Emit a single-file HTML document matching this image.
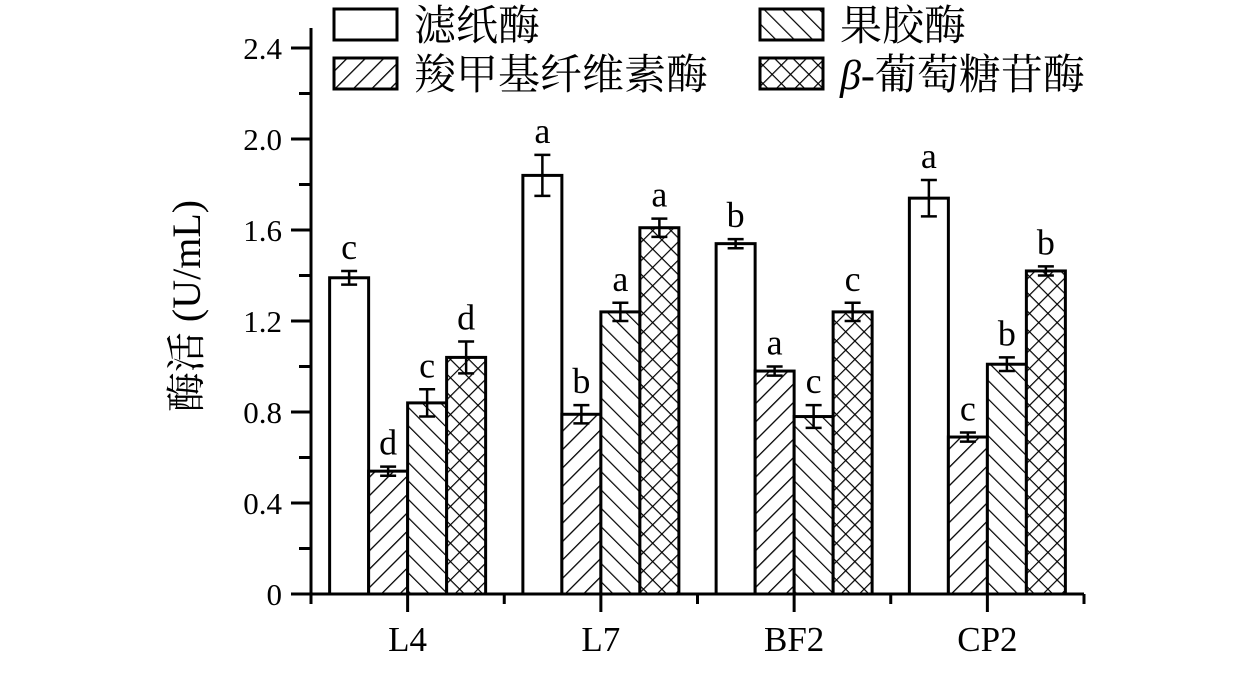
<!DOCTYPE html>
<html><head><meta charset="utf-8"><style>
html,body{margin:0;padding:0;background:#fff;}
svg text{font-family:"Liberation Serif","Noto Serif CJK SC","Noto Sans CJK SC",serif;fill:#000;}
</style></head><body>
<svg id="chart" width="1260" height="668" viewBox="0 0 1260 668" xmlns="http://www.w3.org/2000/svg">
<defs>
<pattern id="pFwd" patternUnits="userSpaceOnUse" width="13" height="13" patternTransform="rotate(45)"><rect width="13" height="13" fill="#fff"/><line x1="0" y1="0" x2="0" y2="13" stroke="#000" stroke-width="2.6"/></pattern>
<pattern id="pBack" patternUnits="userSpaceOnUse" width="13" height="13" patternTransform="rotate(-45)"><rect width="13" height="13" fill="#fff"/><line x1="0" y1="0" x2="0" y2="13" stroke="#000" stroke-width="2.4"/></pattern>
<pattern id="pCross" patternUnits="userSpaceOnUse" width="13" height="13" patternTransform="rotate(45)"><rect width="13" height="13" fill="#fff"/><line x1="0" y1="0" x2="0" y2="13" stroke="#000" stroke-width="2.4"/><line x1="0" y1="0" x2="13" y2="0" stroke="#000" stroke-width="2.4"/></pattern>
</defs>
<g id="plot"></g>
</svg>
<script>
const categories = ["L4","L7","BF2","CP2"];
const seriesNames = ["滤纸酶","羧甲基纤维素酶","果胶酶","β-葡萄糖苷酶"];
const filterPaper = [1.39,1.84,1.54,1.74];
const cmcase = [0.54,0.79,0.98,0.69];
const pectinase = [0.84,1.24,0.78,1.01];
const glucosidase = [1.04,1.61,1.24,1.42];
const filterPaperErr = [0.03,0.09,0.02,0.08];
const cmcaseErr = [0.02,0.04,0.02,0.02];
const pectinaseErr = [0.06,0.04,0.05,0.03];
const glucosidaseErr = [0.07,0.04,0.04,0.02];
const filterPaperSig = ["c","a","b","a"];
const cmcaseSig = ["d","b","a","c"];
const pectinaseSig = ["c","a","c","b"];
const glucosidaseSig = ["d","a","c","b"];
const yTicks = [0,0.4,0.8,1.2,1.6,2.0,2.4];
const yTickLabels = ["0","0.4","0.8","1.2","1.6","2.0","2.4"];

const NS="http://www.w3.org/2000/svg";
const g=document.getElementById('plot');
const X0=311,X1=1084,Y0=594,YPER=227.5;
const groupW=(X1-X0)/categories.length, barW=39;
const y=v=>Y0-v*YPER;
const xc=i=>X0+groupW*(i+0.5);
function mk(tag,attrs,parent){const e=document.createElementNS(NS,tag);for(const k in attrs)e.setAttribute(k,attrs[k]);(parent||g).appendChild(e);return e;}

const series=[
 {vals:filterPaper,err:filterPaperErr,sig:filterPaperSig,fill:'#fff',name:'filter-paper'},
 {vals:cmcase,err:cmcaseErr,sig:cmcaseSig,fill:'url(#pFwd)',name:'cmcase'},
 {vals:pectinase,err:pectinaseErr,sig:pectinaseSig,fill:'url(#pBack)',name:'pectinase'},
 {vals:glucosidase,err:glucosidaseErr,sig:glucosidaseSig,fill:'url(#pCross)',name:'glucosidase'}];

series.forEach((s,si)=>{
 categories.forEach((c,i)=>{
  const x=xc(i)-2*barW+si*barW, v=s.vals[i];
  const r=mk('rect',{x:x,y:y(v),width:barW,height:Y0-y(v),fill:s.fill,stroke:'#000','stroke-width':3});
  
  
  const cx=x+barW/2, e=s.err[i];
  const eg=mk('g',{});
  
  
  mk('line',{x1:cx,x2:cx,y1:y(v+e),y2:y(v-e),stroke:'#000','stroke-width':2.5},eg);
  mk('line',{x1:cx-8,x2:cx+8,y1:y(v+e),y2:y(v+e),stroke:'#000','stroke-width':2.5},eg);
  mk('line',{x1:cx-8,x2:cx+8,y1:y(v-e),y2:y(v-e),stroke:'#000','stroke-width':2.5},eg);
  const t=mk('text',{x:cx,y:y(v+e)-12,'text-anchor':'middle','font-size':36});
  t.textContent=s.sig[i];
  
  
 });
});

const ya=mk('line',{x1:X0,x2:X0,y1:Y0+1.5,y2:y(2.4)-20,stroke:'#000','stroke-width':3});


const xa=mk('line',{x1:X0-20,x2:X1,y1:Y0,y2:Y0,stroke:'#000','stroke-width':3});


yTicks.forEach((v,i)=>{
 mk('line',{x1:X0-20,x2:X0,y1:y(v),y2:y(v),stroke:'#000','stroke-width':3});
 if(i<yTicks.length-1) mk('line',{x1:X0-12,x2:X0,y1:y(v+0.2),y2:y(v+0.2),stroke:'#000','stroke-width':3});
 const t=mk('text',{x:X0-29,y:y(v)+11,'text-anchor':'end','font-size':31});
 t.textContent=yTickLabels[i];
 
 
});
categories.forEach((c,i)=>{
 mk('line',{x1:xc(i),x2:xc(i),y1:Y0,y2:Y0+18,stroke:'#000','stroke-width':3});
 const t=mk('text',{x:xc(i),y:Y0+57,'text-anchor':'middle','font-size':35});
 t.textContent=c;
 
 
});
for(let i=0;i<=categories.length;i++) mk('line',{x1:X0+groupW*i,x2:X0+groupW*i,y1:Y0,y2:Y0+10,stroke:'#000','stroke-width':3});

const yl=mk('text',{transform:'translate(200,306) rotate(-90)','text-anchor':'middle','font-size':40});
yl.textContent='酶活 (U/mL)';



const leg=[[334,9,0],[334,58,1],[760,9,2],[760,58,3]];
leg.forEach(([lx,ly,si])=>{
 const lg=mk('g',{});
 
 
 mk('rect',{x:lx,y:ly,width:63,height:31,fill:series[si].fill,stroke:'#000','stroke-width':3},lg);
 const t=mk('text',{x:lx+80,y:ly+31,'font-size':42},lg);
 if(si===3){const ts=mk('tspan',{'font-style':'italic'},t);ts.textContent='β';const t2=mk('tspan',{},t);t2.textContent='-葡萄糖苷酶';}
 else t.textContent=seriesNames[si];
});
</script>
</body></html>
